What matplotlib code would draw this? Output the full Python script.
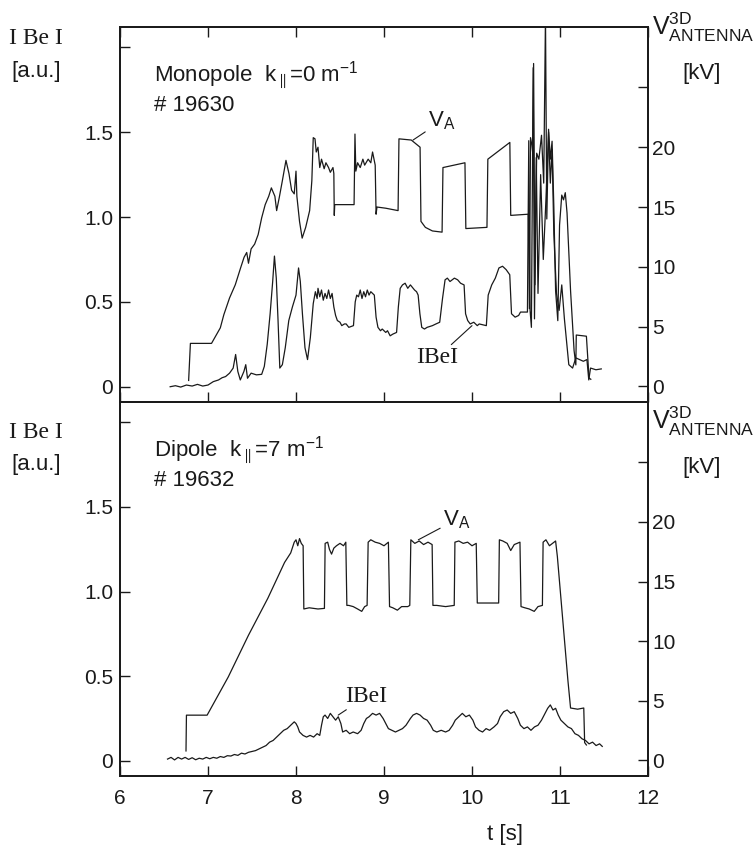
import matplotlib
matplotlib.use("Agg")
import matplotlib.pyplot as plt

plt.rcParams['font.family'] = ['Liberation Sans Narrow', 'Liberation Sans', 'DejaVu Sans']
plt.rcParams['mathtext.fontset'] = 'custom'
plt.rcParams['mathtext.rm'] = 'Liberation Sans'
plt.rcParams['mathtext.it'] = 'Liberation Sans'

INK = '#1a1a1a'

# ---- top panel: monopole, #19630 ----
top_va_t = [6.78, 6.80, 7.04, 7.14, 7.18, 7.245, 7.31, 7.37, 7.41, 7.44, 7.46, 7.49, 7.53, 7.57,
            7.61, 7.65, 7.69, 7.72, 7.76, 7.78, 7.81, 7.845, 7.886, 7.92, 7.95, 7.98, 8.0, 8.01,
            8.04, 8.07, 8.11, 8.155, 8.18, 8.196, 8.216, 8.23, 8.25, 8.27, 8.29, 8.32, 8.34, 8.37,
            8.39, 8.42, 8.43, 8.435, 8.44, 8.66, 8.67, 8.68, 8.70, 8.73, 8.76, 8.78, 8.82, 8.85,
            8.87, 8.90, 8.91, 8.92, 9.02, 9.16, 9.17, 9.31, 9.41, 9.42, 9.47, 9.55, 9.66, 9.67,
            9.92, 9.93, 10.17, 10.18, 10.43, 10.44, 10.64, 10.652, 10.665, 10.68, 10.69, 10.70,
            10.715, 10.735, 10.76, 10.79, 10.815, 10.835, 10.85, 10.87, 10.89, 10.91, 10.93,
            10.95, 10.975, 10.995, 11.02, 11.04, 11.06, 11.08, 11.12, 11.16, 11.18, 11.185,
            11.30, 11.33, 11.35]
top_va_kv = [0.5, 3.6, 3.6, 4.9, 6.0, 7.4, 8.5, 9.9, 10.8, 11.2, 10.3, 11.5, 11.9, 12.7,
             14.1, 15.2, 15.9, 16.6, 15.9, 14.7, 15.8, 17.2, 18.9, 17.8, 16.4, 16.1, 18.0, 15.9,
             13.8, 12.4, 13.3, 14.7, 17.2, 20.8, 20.7, 19.6, 20.0, 18.3, 19.0, 18.2, 18.7, 18.3,
             17.9, 18.3, 17.8, 14.3, 15.2, 15.2, 21.1, 18.0, 18.7, 18.3, 19.0, 18.5, 19.0, 18.7,
             19.6, 18.5, 14.4, 15.0, 14.9, 14.7, 20.7, 20.6, 20.0, 13.8, 13.3, 13.0, 12.9, 18.3,
             18.7, 13.2, 13.3, 19.0, 20.4, 14.3, 14.4, 6.5, 20.8, 20.2, 19.5, 27.0,
             8.5, 19.5, 19.0, 21.0, 17.0, 31.0, 14.0, 21.5, 19.0, 20.5, 15.0,
             8.0, 5.5, 13.5, 16.0, 15.6, 16.2, 14.5, 8.0, 3.0, 1.8, 4.3,
             4.2, 0.7, 0.6]

top_be_t = [6.57, 6.63, 6.69, 6.755, 6.82, 6.88, 6.94, 7.0, 7.06, 7.12, 7.16, 7.20, 7.245, 7.286,
            7.314, 7.339, 7.367, 7.408, 7.429, 7.449, 7.49, 7.55, 7.61, 7.64, 7.673, 7.706, 7.735,
            7.755, 7.776, 7.796, 7.816, 7.845, 7.878, 7.918, 7.959, 8.0, 8.029, 8.049, 8.073,
            8.102, 8.131, 8.163, 8.196, 8.22, 8.24, 8.25, 8.27, 8.29, 8.31, 8.33, 8.35, 8.37,
            8.39, 8.41, 8.43, 8.45, 8.47, 8.50, 8.52, 8.55, 8.57, 8.60, 8.653, 8.673, 8.69, 8.71,
            8.73, 8.75, 8.77, 8.79, 8.81, 8.83, 8.85, 8.89, 8.91, 8.931, 8.96, 8.98, 9.02, 9.04,
            9.07, 9.10, 9.143, 9.163, 9.184, 9.21, 9.24, 9.27, 9.30, 9.347, 9.37, 9.388, 9.408,
            9.429, 9.46, 9.49, 9.55, 9.59, 9.633, 9.665, 9.694, 9.72, 9.75, 9.80, 9.837, 9.87,
            9.91, 9.927, 9.951, 9.98, 10.02, 10.06, 10.082, 10.163, 10.184, 10.224, 10.265,
            10.306, 10.347, 10.388, 10.429, 10.449, 10.49, 10.53, 10.551, 10.612, 10.63, 10.645,
            10.66, 10.675, 10.695, 10.71, 10.73, 10.75, 10.78, 10.81, 10.84, 10.87, 10.89, 10.91,
            10.93, 10.96, 10.99, 11.02, 11.05, 11.10, 11.143, 11.18, 11.265, 11.306, 11.327,
            11.347, 11.408, 11.469]
top_be_v = [0.0, 0.006, -0.002, 0.01, 0.004, 0.014, 0.004, 0.01, 0.03, 0.04, 0.053, 0.06, 0.08, 0.11,
            0.19, 0.09, 0.04, 0.09, 0.13, 0.05, 0.08, 0.07, 0.073, 0.12, 0.25, 0.43, 0.62,
            0.77, 0.64, 0.39, 0.11, 0.13, 0.23, 0.39, 0.47, 0.54, 0.70, 0.62, 0.43,
            0.23, 0.16, 0.29, 0.49, 0.56, 0.52, 0.58, 0.53, 0.57, 0.51, 0.55, 0.52, 0.57,
            0.52, 0.55, 0.47, 0.42, 0.39, 0.38, 0.36, 0.37, 0.37, 0.35, 0.36, 0.50, 0.54, 0.53,
            0.57, 0.52, 0.56, 0.53, 0.57, 0.54, 0.56, 0.54, 0.41, 0.35, 0.33, 0.34, 0.32, 0.33,
            0.30, 0.31, 0.32, 0.47, 0.58, 0.60, 0.61, 0.58, 0.60, 0.57, 0.56, 0.54, 0.43,
            0.35, 0.34, 0.35, 0.36, 0.37, 0.38, 0.52, 0.63, 0.64, 0.62, 0.64, 0.63, 0.61,
            0.60, 0.43, 0.39, 0.37, 0.38, 0.36, 0.37, 0.36, 0.54, 0.60, 0.64,
            0.70, 0.71, 0.69, 0.66, 0.43, 0.41, 0.42, 0.44, 0.44, 0.44, 1.45,
            0.45, 0.35, 1.88, 0.40, 1.35, 0.55, 1.25, 0.75, 1.10, 1.50, 1.20, 1.40,
            0.90, 0.55, 0.45, 0.60, 0.40, 0.13, 0.11, 0.17, 0.15, 0.16, 0.04,
            0.11, 0.10, 0.105]

# ---- bottom panel: dipole, #19632 ----
bot_va_t = [6.75, 6.755, 6.99, 7.23, 7.46, 7.68, 7.87, 7.94, 7.98, 8.0, 8.02, 8.04, 8.06, 8.081,
            8.089, 8.15, 8.25, 8.323, 8.331, 8.36, 8.38, 8.404, 8.43, 8.46, 8.50, 8.54, 8.566,
            8.578, 8.60, 8.65, 8.70, 8.747, 8.78, 8.808, 8.82, 8.85, 8.90, 8.95, 9.0, 9.05,
            9.063, 9.10, 9.152, 9.20, 9.27, 9.293, 9.305, 9.35, 9.40, 9.45, 9.50, 9.547,
            9.556, 9.60, 9.70, 9.798, 9.806, 9.85, 9.90, 9.95, 10.0, 10.048, 10.06, 10.10,
            10.20, 10.303, 10.311, 10.35, 10.40, 10.44, 10.48, 10.545, 10.557, 10.60, 10.65,
            10.707, 10.75, 10.80, 10.808, 10.84, 10.88, 10.95, 10.97, 11.09, 11.12, 11.20,
            11.27, 11.28, 11.30]
bot_va_kv = [0.8, 3.8, 3.8, 7.0, 10.5, 13.6, 16.6, 17.4, 18.3, 18.5, 18.0, 18.6, 18.2, 18.0,
             12.7, 12.8, 12.7, 12.75, 18.2, 18.3, 17.7, 17.3, 17.8, 18.0, 18.2, 18.0, 18.3,
             13.0, 13.0, 12.9, 12.7, 12.5, 12.9, 13.0, 18.3, 18.5, 18.3, 18.2, 18.0, 18.3,
             12.9, 12.8, 12.6, 12.9, 12.9, 13.0, 18.5, 18.2, 18.4, 18.1, 18.3, 18.1,
             13.0, 13.0, 12.9, 13.0, 18.3, 18.4, 18.2, 18.3, 18.0, 18.2, 13.2, 13.2,
             13.2, 13.2, 18.5, 18.4, 18.2, 17.6, 18.1, 18.3, 12.9, 12.8, 12.7,
             12.5, 12.9, 13.0, 18.3, 18.5, 18.0, 18.4, 17.1, 6.7, 4.4, 4.3,
             4.4, 1.5, 1.3]

bot_be_t = [6.54, 6.58, 6.62, 6.66, 6.70, 6.74, 6.78, 6.82, 6.86, 6.90, 6.94, 6.98, 7.02, 7.06,
            7.10, 7.14, 7.18, 7.22, 7.26, 7.30, 7.34, 7.38, 7.42, 7.46, 7.50, 7.54, 7.58, 7.62,
            7.66, 7.70, 7.74, 7.78, 7.82, 7.86, 7.90, 7.94, 7.98, 8.0, 8.02, 8.04, 8.08, 8.12,
            8.16, 8.20, 8.24, 8.27, 8.29, 8.31, 8.33, 8.36, 8.39, 8.42, 8.45, 8.48, 8.51, 8.53,
            8.57, 8.61, 8.65, 8.70, 8.74, 8.77, 8.80, 8.83, 8.87, 8.91, 8.95, 8.99, 9.02, 9.05,
            9.09, 9.13, 9.17, 9.21, 9.25, 9.30, 9.33, 9.37, 9.41, 9.45, 9.49, 9.53, 9.56, 9.60,
            9.65, 9.70, 9.74, 9.78, 9.81, 9.85, 9.89, 9.93, 9.97, 10.01, 10.04, 10.08, 10.12,
            10.16, 10.20, 10.25, 10.29, 10.32, 10.36, 10.40, 10.44, 10.48, 10.52, 10.55, 10.59,
            10.63, 10.67, 10.71, 10.75, 10.79, 10.83, 10.86, 10.89, 10.92, 10.95, 10.98, 11.01,
            11.05, 11.09, 11.13, 11.17, 11.21, 11.25, 11.29, 11.33, 11.37, 11.41, 11.45, 11.48]
bot_be_v = [0.01, 0.02, 0.005, 0.02, 0.01, 0.02, 0.008, 0.018, 0.006, 0.015, 0.01, 0.02, 0.012, 0.02,
            0.015, 0.025, 0.02, 0.03, 0.028, 0.037, 0.032, 0.045, 0.04, 0.05, 0.055, 0.06, 0.07, 0.08,
            0.09, 0.11, 0.12, 0.14, 0.16, 0.18, 0.19, 0.21, 0.23, 0.22, 0.20, 0.17, 0.15, 0.14,
            0.15, 0.14, 0.16, 0.15, 0.21, 0.26, 0.27, 0.25, 0.28, 0.26, 0.24, 0.26, 0.22, 0.17,
            0.18, 0.16, 0.17, 0.16, 0.18, 0.22, 0.25, 0.26, 0.28, 0.27, 0.28, 0.25, 0.22, 0.19,
            0.18, 0.17, 0.18, 0.19, 0.21, 0.25, 0.27, 0.28, 0.27, 0.25, 0.24, 0.21, 0.18, 0.17,
            0.18, 0.17, 0.18, 0.21, 0.24, 0.26, 0.28, 0.26, 0.27, 0.24, 0.20, 0.18, 0.17,
            0.19, 0.18, 0.20, 0.22, 0.26, 0.29, 0.30, 0.28, 0.29, 0.25, 0.21, 0.19,
            0.20, 0.18, 0.20, 0.21, 0.24, 0.28, 0.31, 0.33, 0.30, 0.31, 0.27, 0.24,
            0.22, 0.20, 0.19, 0.16, 0.15, 0.13, 0.12, 0.10, 0.11, 0.09, 0.10, 0.085]

be_ticks = [0, 0.5, 1.0, 1.5, 2.0]
be_labels = ['0', '0.5', '1.0', '1.5', '']
kv_ticks = [0, 5, 10, 15, 20, 25]
kv_labels = ['0', '5', '10', '15', '20', '']
t_ticks = [6, 7, 8, 9, 10, 11, 12]

W, H = 755, 848
fig = plt.figure(figsize=(W / 100, H / 100), dpi=100)
L, R = 120, 648
ax1 = fig.add_axes([L / W, 1 - 402 / H, (R - L) / W, (402 - 27) / H])
ax2 = fig.add_axes([L / W, 1 - 776 / H, (R - L) / W, (776 - 402) / H])

tk = dict(direction='in', length=7, width=1.0, colors=INK, labelsize=15)

panels = [
    (ax1, top_be_t, top_be_v, top_va_t, top_va_kv, True),
    (ax2, bot_be_t, bot_be_v, bot_va_t, bot_va_kv, False),
]
twins = []
for ax, bt, bv, vt, vk, is_top in panels:
    tw = ax.twinx()
    twins.append(tw)
    ax.plot(bt, bv, color=INK, lw=0.9)
    tw.plot(vt, vk, color=INK, lw=0.9)
    ax.set_xlim(6, 12)
    ax.set_ylim(-0.09, 2.12)
    tw.set_ylim(-1.3, 30.05)
    ax.set_xticks(t_ticks)
    ax.set_yticks(be_ticks)
    ax.set_yticklabels(be_labels)
    tw.set_yticks(kv_ticks)
    tw.set_yticklabels(kv_labels)
    ax.tick_params(axis='y', left=True, right=False, pad=5, **tk)
    tw.tick_params(axis='y', right=True, left=False, pad=3, **tk)
    tw.tick_params(axis='x', top=False, bottom=False, labelbottom=False)
    if is_top:
        ax.tick_params(axis='x', top=True, bottom=True, labelbottom=False, **tk)
    else:
        ax.tick_params(axis='x', top=False, bottom=True, labelbottom=True, pad=9, **tk)
    for a in (ax, tw):
        for s in a.spines.values():
            s.set_linewidth(1.3)
            s.set_color(INK)

# panel captions
ax1.text(0.065, 0.87, r'Monopole  k$_{\parallel}$=0 m$^{-1}$', transform=ax1.transAxes,
         fontsize=16, color=INK, va='center')
ax1.text(0.065, 0.79, '# 19630', transform=ax1.transAxes, fontsize=16, color=INK, va='center')
ax2.text(0.065, 0.87, r'Dipole  k$_{\parallel}$=7 m$^{-1}$', transform=ax2.transAxes,
         fontsize=16, color=INK, va='center')
ax2.text(0.065, 0.79, '# 19632', transform=ax2.transAxes, fontsize=16, color=INK, va='center')

# curve labels with leader lines
lead = dict(arrowstyle='-', lw=0.8, color=INK, shrinkA=0, shrinkB=0)
twins[0].annotate(r'V$_{\rm A}$', xy=(9.33, 20.6), xytext=(9.5, 22.2), fontsize=16,
                  color=INK, ha='left', va='center', arrowprops=lead)
ax1.annotate('IBeI', xy=(10.0, 0.36), xytext=(9.6, 0.17), fontsize=17, family='Liberation Serif',
             color=INK, ha='center', va='center', arrowprops=lead)
twins[1].annotate(r'V$_{\rm A}$', xy=(9.39, 18.5), xytext=(9.67, 20.2), fontsize=16,
                  color=INK, ha='left', va='center', arrowprops=lead)
ax2.annotate('IBeI', xy=(8.48, 0.27), xytext=(8.8, 0.38), fontsize=17, family='Liberation Serif',
             color=INK, ha='center', va='center', arrowprops=lead)

# axis titles
for dy in (0, 394):
    fig.text(36 / W, 1 - (39 + dy) / H, 'I Be I', family='Liberation Serif', fontsize=17,
             color=INK, ha='center', va='center')
    fig.text(36 / W, 1 - (71 + dy) / H, '[a.u.]', fontsize=16, color=INK, ha='center', va='center')
    fig.text(652 / W, 1 - (27 + dy) / H, r'V$^{\rm 3D}_{\rm ANTENNA}$', fontsize=18, color=INK,
             ha='left', va='center')
    fig.text(702 / W, 1 - (73 + dy) / H, '[kV]', fontsize=16, color=INK, ha='center', va='center')

fig.text(505 / W, 1 - 845 / H, 't [s]', fontsize=16, color=INK, ha='center', va='bottom')

fig.savefig('out.png', dpi=100, facecolor='white')
